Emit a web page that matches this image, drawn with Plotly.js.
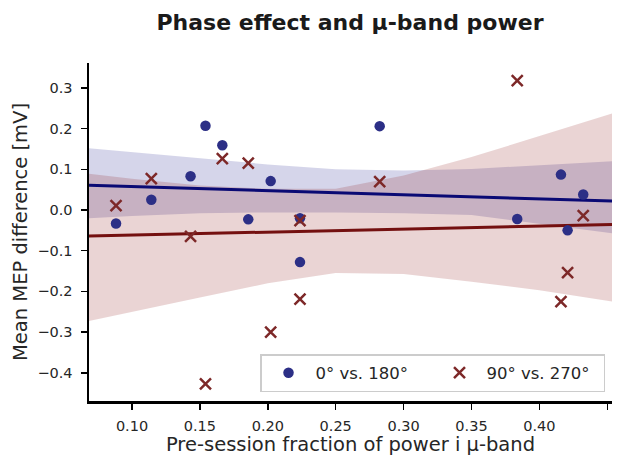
<!DOCTYPE html>
<html><head><meta charset="utf-8">
<script src="https://cdn.plot.ly/plotly-3.0.1.min.js"></script>
<style>html,body{margin:0;padding:0;background:#fff}#chart{width:620px;height:456px}</style>
</head><body><div id="chart"></div>
<script>
// Scatter data (shared x: pre-session fraction of power in mu-band)
const powerFraction = [0.0882, 0.1142, 0.1431, 0.1541, 0.1665, 0.1856, 0.2021, 0.2237, 0.2237, 0.2824, 0.3837, 0.4159, 0.4208, 0.4323];
const mep0vs180  = [-0.033, 0.025, 0.083, 0.207, 0.159, -0.023, 0.071, -0.020, -0.128, 0.206, -0.022, 0.087, -0.050, 0.038];
const mep90vs270 = [0.011, 0.077, -0.065, -0.427, 0.126, 0.115, -0.300, -0.026, -0.219, 0.070, 0.318, -0.225, -0.154, -0.014];

// Confidence bands
const bandX     = [0.0683, 0.10, 0.15, 0.20, 0.25, 0.30, 0.35, 0.40, 0.4535];
const blueUpper = [0.152, 0.142, 0.126, 0.112, 0.100, 0.097, 0.101, 0.110, 0.120];
const blueLower = [-0.020, -0.015, -0.008, -0.006, -0.006, -0.008, -0.012, -0.033, -0.057];
const redUpper  = [0.089, 0.077, 0.060, 0.052, 0.052, 0.085, 0.130, 0.182, 0.237];
const redLower  = [-0.273, -0.250, -0.215, -0.180, -0.155, -0.157, -0.176, -0.197, -0.225];

const seriesNames = ['0° vs. 180°', '90° vs. 270°'];
const xRange = [0.0683, 0.4535];
const yRange = [-0.4693, 0.3612];

function ols(x, y) {
  const n = x.length;
  const mx = x.reduce((a, b) => a + b, 0) / n;
  const my = y.reduce((a, b) => a + b, 0) / n;
  let sxy = 0, sxx = 0;
  for (let i = 0; i < n; i++) { sxy += (x[i] - mx) * (y[i] - my); sxx += (x[i] - mx) ** 2; }
  const b = sxy / sxx;
  return xs => xs.map(v => my + b * (v - mx));
}
const blueFit = ols(powerFraction, mep0vs180);
const redFit = ols(powerFraction, mep90vs270);

const band = (up, lo, color) => ({
  x: bandX.concat(bandX.slice().reverse()),
  y: up.concat(lo.slice().reverse()),
  mode: 'lines', fill: 'toself', fillcolor: color,
  line: {width: 0}, hoverinfo: 'skip', showlegend: false
});

const traces = [
  band(blueUpper, blueLower, 'rgba(0,0,128,0.165)'),
  band(redUpper, redLower, 'rgba(128,0,0,0.17)'),
  {x: xRange, y: blueFit(xRange), mode: 'lines', line: {color: '#0a0a74', width: 3}, showlegend: false},
  {x: xRange, y: redFit(xRange), mode: 'lines', line: {color: '#741010', width: 3}, showlegend: false},
  {x: powerFraction, y: mep0vs180, mode: 'markers', name: seriesNames[0],
   marker: {symbol: 'circle', size: 10.5, color: '#2c2f86'}},
  {x: powerFraction, y: mep90vs270, mode: 'markers', name: seriesNames[1],
   marker: {symbol: 'x-thin-open', size: 11, color: '#7d2828', line: {width: 2.5, color: '#7d2828'}}}
];

const layout = {
  width: 620, height: 456,
  margin: {l: 89, r: 8, t: 63, b: 55},
  paper_bgcolor: '#fff', plot_bgcolor: '#fff',
  font: {family: 'DejaVu Sans', color: '#262626'},
  title: {text: 'Phase effect and μ-band power', x: 0.5645, xanchor: 'center', y: 0.952, yanchor: 'middle',
          font: {size: 22, weight: 'bold', color: '#1a1a1a', family: 'DejaVu Sans'}},
  xaxis: {range: xRange, tick0: 0.1, dtick: 0.05, tickformat: '.2f',
          showline: true, linecolor: '#000', linewidth: 2.5, showgrid: false, zeroline: false,
          ticks: 'outside', ticklen: 6, tickwidth: 1.5, tickcolor: '#000', ticklabelstandoff: 4,
          tickfont: {size: 14.5, color: '#262626'},
          title: {text: 'Pre-session fraction of power i μ-band', font: {size: 19.5, color: '#262626'}, standoff: 2}},
  yaxis: {range: yRange, tick0: 0, dtick: 0.1, tickformat: '.1f',
          showline: true, linecolor: '#000', linewidth: 2.5, showgrid: false, zeroline: false,
          ticks: 'outside', ticklen: 6, tickwidth: 1.5, tickcolor: '#000', ticklabelstandoff: 5,
          tickfont: {size: 14.5, color: '#262626'},
          title: {text: 'Mean MEP difference [mV]', font: {size: 19.5, color: '#262626'}, standoff: 5}},
  legend: {orientation: 'h', x: (605 - 89) / 523, xanchor: 'right', y: 0.0266, yanchor: 'bottom',
           bgcolor: '#fff', bordercolor: '#cccccc', borderwidth: 1.5,
           font: {size: 16.5, color: '#262626'}, entrywidth: 112, itemwidth: 44},
  showlegend: true
};

Plotly.newPlot('chart', traces, layout, {displayModeBar: false, staticPlot: true});
</script>
</body></html>
